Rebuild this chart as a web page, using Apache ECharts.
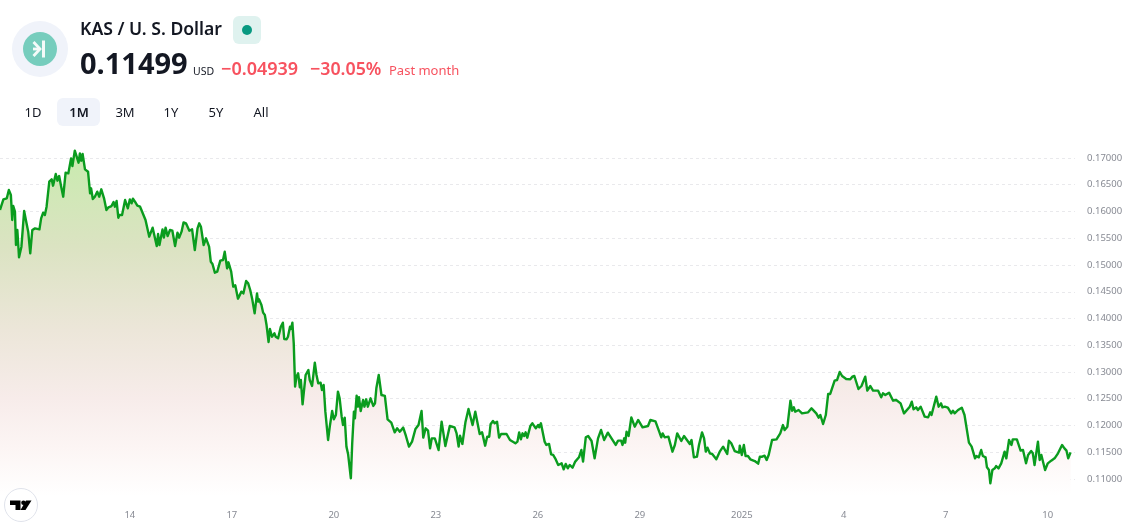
<!DOCTYPE html>
<html><head><meta charset="utf-8">
<style>html,body{margin:0;padding:0;background:#fff}#c{width:1133px;height:527px}</style>
<script src="https://cdn.jsdelivr.net/npm/echarts@6/dist/echarts.min.js"></script>
</head><body><div id="c"></div>
<script>
// Days counted from 1 Dec 2024 (32 = 1 Jan 2025)
const days=[10.18,10.23,10.28,10.33,10.38,10.44,10.50,10.54,10.57,10.62,10.65,10.69,10.74,10.81,10.89,10.96,11.01,11.07,11.13,11.21,11.34,11.39,11.45,11.50,11.55,11.63,11.70,11.74,11.82,11.87,11.92,11.98,12.04,12.08,12.11,12.19,12.27,12.31,12.38,12.42,12.49,12.53,12.57,12.61,12.68,12.77,12.83,12.86,12.91,12.97,13.04,13.10,13.16,13.24,13.31,13.37,13.46,13.52,13.56,13.61,13.66,13.69,13.77,13.86,13.94,14.00,14.05,14.09,14.15,14.22,14.30,14.34,14.38,14.46,14.57,14.67,14.79,14.83,14.87,14.96,15.00,15.05,15.11,15.18,15.25,15.33,15.40,15.45,15.52,15.58,15.65,15.75,15.83,15.91,15.99,16.04,16.09,16.17,16.24,16.28,16.33,16.38,16.43,16.50,16.57,16.66,16.74,16.79,16.86,16.90,16.98,17.04,17.10,17.18,17.22,17.28,17.34,17.42,17.48,17.54,17.60,17.63,17.67,17.74,17.77,17.80,17.87,17.92,17.97,18.02,18.08,18.12,18.18,18.25,18.29,18.36,18.44,18.50,18.54,18.61,18.65,18.71,18.74,18.78,18.82,18.86,18.90,18.95,19.00,19.03,19.08,19.13,19.17,19.22,19.25,19.29,19.36,19.44,19.49,19.54,19.61,19.65,19.70,19.75,19.78,19.83,19.88,19.95,20.00,20.06,20.12,20.17,20.23,20.27,20.32,20.37,20.42,20.45,20.50,20.54,20.59,20.62,20.67,20.71,20.74,20.79,20.86,20.90,20.95,21.00,21.08,21.16,21.21,21.25,21.32,21.40,21.50,21.58,21.69,21.79,21.86,21.94,22.04,22.12,22.17,22.21,22.30,22.40,22.49,22.58,22.63,22.70,22.77,22.83,22.88,22.97,23.08,23.17,23.21,23.28,23.41,23.55,23.61,23.67,23.71,23.78,23.87,23.90,23.96,24.08,24.16,24.21,24.29,24.36,24.45,24.51,24.57,24.61,24.68,24.73,24.80,24.86,24.92,25.08,25.18,25.22,25.34,25.40,25.45,25.50,25.55,25.60,25.64,25.69,25.78,25.84,25.94,26.01,26.04,26.09,26.20,26.25,26.33,26.39,26.45,26.51,26.60,26.70,26.76,26.82,26.88,26.94,27.02,27.10,27.21,27.28,27.33,27.41,27.48,27.58,27.67,27.77,27.86,27.95,28.06,28.12,28.17,28.29,28.36,28.45,28.49,28.54,28.57,28.61,28.67,28.75,28.85,28.95,29.08,29.24,29.31,29.46,29.57,29.63,29.67,29.73,29.84,29.96,30.03,30.10,30.15,30.22,30.30,30.47,30.52,30.59,30.68,30.74,30.83,30.89,30.94,30.99,31.06,31.13,31.25,31.35,31.45,31.50,31.57,31.62,31.69,31.79,31.92,31.94,32.00,32.06,32.11,32.18,32.25,32.38,32.48,32.53,32.60,32.67,32.73,32.79,32.89,33.02,33.13,33.21,33.26,33.34,33.43,33.48,33.53,33.57,33.67,33.77,33.95,34.05,34.19,34.26,34.31,34.39,34.47,34.54,34.60,34.73,34.80,34.88,34.95,35.07,35.19,35.25,35.31,35.43,35.52,35.63,35.69,35.78,35.86,36.01,36.10,36.15,36.22,36.33,36.45,36.54,36.67,36.77,36.82,36.94,37.00,37.05,37.13,37.18,37.26,37.38,37.48,37.54,37.58,37.72,37.79,37.86,37.90,37.97,38.06,38.16,38.21,38.26,38.36,38.47,38.55,38.60,38.68,38.76,38.86,38.90,38.97,39.04,39.09,39.17,39.21,39.27,39.31,39.37,39.44,39.48,39.55,39.63,39.73,39.78,39.86,39.93,39.97,40.09,40.20,40.27,40.36,40.42,40.51,40.56,40.61,40.71,40.76,40.81,40.92,41.00,41.10,41.20,41.30,41.42,41.49,41.55,41.60,41.67];
const prices=[.16028,.16015,.16227,.16196,.16246,.16402,.16308,.15841,.16102,.15997,.15374,.15654,.15143,.15342,.16009,.15779,.15623,.15218,.15654,.15685,.15666,.15872,.15978,.15934,.16090,.16557,.16601,.16483,.16701,.16576,.16663,.16464,.16277,.16264,.16725,.16713,.16993,.16850,.17137,.17168,.16912,.17087,.16950,.17074,.16788,.16744,.16339,.16433,.16233,.16277,.16370,.16277,.16414,.16246,.16028,.16078,.16102,.16177,.16090,.16196,.15884,.15934,.15934,.16215,.16059,.16227,.16152,.16240,.16183,.16109,.16090,.16028,.16059,.15841,.15529,.15698,.15355,.15579,.15374,.15666,.15511,.15698,.15542,.15654,.15641,.15355,.15604,.15511,.15623,.15797,.15779,.15641,.15666,.15280,.15685,.15779,.15716,.15374,.15498,.15498,.15342,.15062,.15019,.14857,.14875,.15081,.15093,.15249,.14937,.15050,.14875,.14595,.14620,.14371,.14377,.14502,.14470,.14701,.14657,.14533,.14358,.14377,.14096,.14470,.14315,.14358,.14252,.14109,.14065,.13878,.13561,.13804,.13660,.13723,.13660,.13629,.13847,.13922,.13617,.13611,.13660,.13847,.13804,.13922,.13536,.12726,.12913,.12975,.12714,.12851,.12396,.12383,.12944,.12957,.13038,.12851,.12739,.13175,.12944,.12788,.12801,.12664,.12757,.12259,.12259,.11729,.11978,.12271,.12115,.12197,.12633,.12508,.12165,.12010,.12147,.11605,.11461,.11449,.11013,.11667,.12259,.12134,.12558,.12352,.12527,.12271,.12477,.12352,.12489,.12352,.12508,.12365,.12415,.12695,.12944,.12570,.12552,.12115,.12053,.11872,.11947,.11885,.11960,.11804,.11804,.11605,.11698,.11935,.12010,.12271,.11773,.11947,.11904,.11574,.11760,.11760,.11542,.12072,.12041,.11617,.11991,.11966,.11854,.11605,.11810,.11655,.12059,.12053,.12309,.12010,.12259,.12259,.11841,.11872,.11623,.11791,.11791,.12022,.12084,.12041,.12072,.11773,.11841,.11841,.11729,.11760,.11667,.11698,.11872,.11742,.11854,.11804,.11872,.11773,.11991,.12041,.11947,.12010,.11966,.12041,.11698,.11636,.11655,.11461,.11449,.11387,.11262,.11293,.11181,.11281,.11200,.11262,.11212,.11325,.11405,.11542,.11325,.11779,.11804,.11711,.11387,.11760,.11916,.11729,.11866,.11804,.11779,.11636,.11717,.11717,.11636,.11760,.11679,.11885,.11804,.12152,.11978,.12103,.11966,.11991,.12103,.12078,.11885,.11779,.11853,.11779,.11791,.11511,.11635,.11853,.11841,.11710,.11804,.11654,.11729,.11405,.11417,.11635,.11872,.11760,.11511,.11586,.11480,.11467,.11368,.11511,.11604,.11592,.11467,.11716,.11667,.11523,.11492,.11623,.11449,.11635,.11430,.11430,.11368,.11336,.11287,.11417,.11417,.11436,.11355,.11449,.11729,.11741,.11853,.12009,.11916,.11978,.12464,.12277,.12339,.12258,.12290,.12227,.12246,.12321,.12227,.12146,.12196,.12028,.12196,.12589,.12589,.12838,.12850,.13000,.12925,.12869,.12863,.12913,.12925,.12682,.12738,.12913,.12651,.12738,.12651,.12651,.12526,.12601,.12570,.12614,.12464,.12477,.12414,.12227,.12240,.12352,.12445,.12302,.12339,.12290,.12352,.12165,.12152,.12246,.12196,.12539,.12352,.12414,.12339,.12352,.12333,.12227,.12277,.12227,.12290,.12333,.12196,.12196,.11679,.11604,.11386,.11430,.11405,.11542,.11430,.11405,.11218,.11168,.10919,.11168,.11199,.11243,.11199,.11293,.11511,.11386,.11729,.11635,.11741,.11741,.11530,.11542,.11293,.11449,.11523,.11480,.11262,.11698,.11355,.11449,.11168,.11293,.11343,.11386,.11480,.11635,.11573,.11530,.11386,.11498];
const tickDays=[14,17,20,23,26,29,32,35,38,41];
const tickLabels=['14','17','20','23','26','29','2025','4','7','10'];
const priceTicks=[.11,.115,.12,.125,.13,.135,.14,.145,.15,.155,.16,.165,.17];
const ranges=['1D','1M','3M','1Y','5Y','All'];
const rangeX=[33,79,125,171,216,261];

const font='"Noto Sans",sans-serif';
const ink='#131722', red='#f7525f';
function txt(x,y,text,size,color,weight,align){return {type:'text',x:x,y:y,z:100,style:{text:text,fontFamily:font,fontSize:size,fill:color,fontWeight:weight||'normal',align:align||'left',verticalAlign:'middle'}};}
const white={stroke:'#f4fbf9',lineWidth:2.8,fill:null};
const tvBlack={fill:'#000'};
const graphics=[
 {type:'circle',z:100,shape:{cx:40,cy:49,r:28},style:{fill:'#f0f3fa'}},
 {type:'circle',z:100,shape:{cx:40,cy:49,r:17},style:{fill:'#76cdbd'}},
 {type:'polyline',z:101,shape:{points:[[33.5,42],[40,49],[33.5,56]]},style:white},
 {type:'polyline',z:101,shape:{points:[[33,49],[40,49]]},style:white},
 {type:'polyline',z:101,shape:{points:[[43.5,40.5],[43.5,57.5]]},style:{stroke:'#f4fbf9',lineWidth:3,fill:null}},
 txt(80,30,'KAS / U. S. Dollar',17.6,ink,'600'),
 {type:'rect',z:100,shape:{x:233,y:16,width:28,height:28,r:6},style:{fill:'#dff2ef'}},
 {type:'circle',z:100,shape:{cx:247,cy:30,r:5},style:{fill:'#089981'}},
 txt(80,66,'0.11499',29,ink,'700'),
 txt(193,72,'USD',10.5,ink),
 txt(221,70,'\u22120.04939',18,red,'600'),
 txt(310,70,'\u221230.05%',17.8,red,'600'),
 txt(389,71,'Past month',13,red),
 {type:'rect',z:100,shape:{x:57,y:98,width:43,height:28,r:6},style:{fill:'#f0f3fa'}},
 {type:'circle',z:100,shape:{cx:21,cy:505,r:16.5},style:{fill:'#fff',stroke:'#e0e3eb',lineWidth:1}},
 {type:'polygon',z:101,shape:{points:[[10,500.5],[20.5,500.5],[20.5,510],[15.5,510],[15.5,505],[10,505]]},style:tvBlack},
 {type:'circle',z:101,shape:{cx:23.5,cy:502.8,r:2.3},style:tvBlack},
 {type:'polygon',z:101,shape:{points:[[26,500.5],[31.5,500.5],[25.5,510],[20.5,510]]},style:tvBlack}
];
ranges.forEach((r,i)=>graphics.push({type:'text',z:101,x:rangeX[i],y:113,style:{text:r,fontFamily:font,fontSize:13,fill:ink,fontWeight:r==='1M'?'600':'normal',align:'center',verticalAlign:'middle'}}));

const chart=echarts.init(document.getElementById('c'),null,{renderer:'canvas'});
chart.setOption({
 animation:false,
 grid:{left:0,top:131.25,width:1075,height:374.5,containLabel:false},
 xAxis:{type:'value',min:10.18,max:41.8,axisLine:{show:false},splitLine:{show:false},
  axisTick:{show:false,customValues:tickDays},
  axisLabel:{customValues:tickDays,formatter:v=>tickLabels[tickDays.indexOf(v)],color:'#878a93',fontSize:9.5,fontFamily:font,margin:5,hideOverlap:false}},
 yAxis:{type:'value',position:'right',min:.105,max:.175,axisLine:{show:false},
  axisTick:{show:false,customValues:priceTicks},
  splitLine:{show:true,lineStyle:{color:'#e9e9ec',type:[3,3],width:1}},
  axisLabel:{customValues:priceTicks,formatter:v=>v.toFixed(5),color:'#878a93',fontSize:9.5,fontFamily:font,margin:12,padding:[2,0,0,0]}},
 series:[{type:'line',data:days.map((d,i)=>[d,prices[i]]),showSymbol:false,symbol:'none',smooth:false,
  lineStyle:{color:'#0a9c1e',width:2.4,join:'round'},
  areaStyle:{origin:'start',opacity:1,color:new echarts.graphic.LinearGradient(0,150,0,496,[
   {offset:0,color:'#c8ebae'},{offset:.28,color:'#dbe3c2'},{offset:.52,color:'#ece6d9'},{offset:.72,color:'#f7ecea'},{offset:.86,color:'#fcf5f4'},{offset:1,color:'#ffffff'}],true)}}],
 graphic:graphics
});
</script></body></html>
